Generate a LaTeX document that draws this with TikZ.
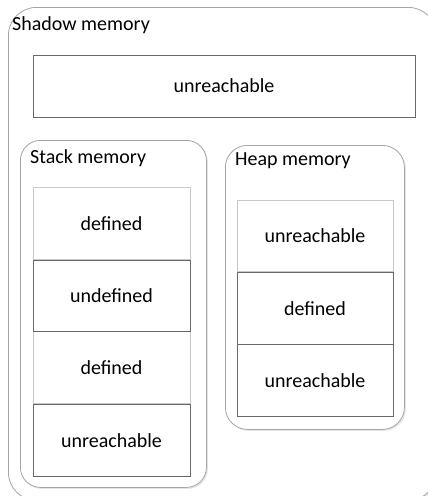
\documentclass[tikz,border=0pt]{standalone}
\usepackage{fontspec}
\setmainfont{Carlito}
\usetikzlibrary{positioning, shadows}
\definecolor{rimPanel}{RGB}{165,165,165}
\definecolor{rimLight}{RGB}{200,200,200}
\definecolor{rimDark}{RGB}{105,105,105}

\begin{document}
\begin{tikzpicture}[x=1pt, y=-1pt,
          panel/.style={rectangle, draw=rimPanel, line width=0.8pt, fill=white, anchor=north west, inner sep=0pt,
            drop shadow={shadow xshift=1.5pt, shadow yshift=-1.5pt, opacity=0.2, fill=gray}},
          cell/.style={rectangle, draw=rimLight, line width=0.9pt, fill=white, inner sep=0pt,
            minimum width=157pt, minimum height=71.75pt, font=\fontsize{20}{24}\selectfont},
          darkcell/.style={cell, draw=rimDark},
          title/.style={anchor=west, inner sep=0pt, font=\fontsize{20}{24}\selectfont}]
        \path[use as bounding box, clip] (0,0) rectangle (428,496);
        % outer panel
        \node[panel, rounded corners=28pt, minimum width=428pt, minimum height=493pt] (shadowmem) at (8,7) {};
        \node[title] (shadowlbl) at (12,25) {Shadow memory};
        \node[darkcell, minimum width=382pt, minimum height=62pt] (top) at (224,86) {unreachable};
        % stack
        \node[panel, rounded corners=20pt, minimum width=186pt, minimum height=347pt] (stack) at (20,140) {};
        \node[title] (stacklbl) at (30,158) {Stack memory};
        \node[cell, anchor=north] (s1) at (111.5,187) {defined};
        \node[cell, below=71.75pt of s1] (s3) {defined};
        \node[darkcell, below=0pt of s1] (s2) {undefined};
        \node[darkcell, below=0pt of s3] (s4) {unreachable};
        % heap
        \node[panel, rounded corners=22pt, minimum width=179pt, minimum height=284pt] (heap) at (225,145) {};
        \node[title] (heaplbl) at (235,161) {Heap memory};
        \node[cell, anchor=north, minimum width=156pt, minimum height=71.3pt] (h1) at (315,200) {unreachable};
        \node[darkcell, below=0pt of h1, minimum width=156pt, minimum height=71.3pt] (h2) {defined};
        \node[darkcell, below=0pt of h2, minimum width=156pt, minimum height=71.3pt] (h3) {unreachable};
      \end{tikzpicture}
\end{document}
